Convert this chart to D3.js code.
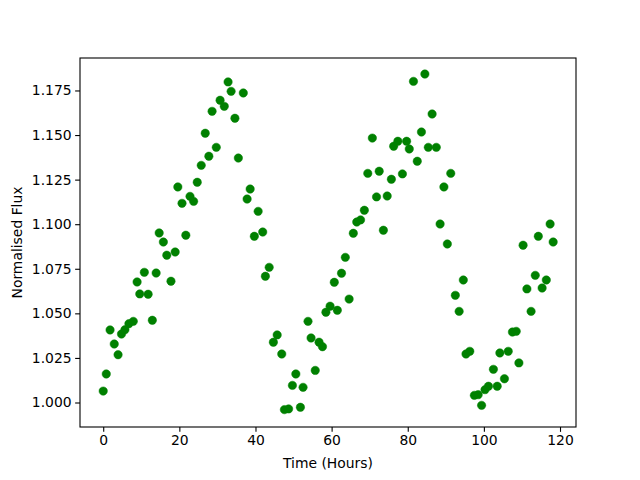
<!DOCTYPE html>
<html>
<head>
<meta charset="utf-8">
<script src="https://cdn.jsdelivr.net/npm/d3@7"></script>
<style>
  html, body { margin: 0; padding: 0; background: #fff; }
  svg { display: block; }
  text { font-family: "DejaVu Sans", sans-serif; }
</style>
</head>
<body>
<svg id="chart" width="640" height="480"></svg>
<script>
// Time (hours)
const times = [
  0.0, 0.8, 1.8, 2.9, 3.9, 4.8, 5.7, 6.75, 7.9, 8.9,
  9.6, 10.8, 11.8, 12.9, 13.9, 14.7, 15.8, 16.7, 17.8, 18.9,
  19.6, 20.7, 21.7, 22.8, 23.75, 24.7, 25.75, 26.8, 27.75, 28.6,
  29.7, 30.7, 31.8, 32.8, 33.6, 34.6, 35.5, 36.8, 37.8, 38.6,
  39.7, 40.7, 41.9, 42.6, 43.6, 44.7, 45.7, 46.9, 47.6, 48.7,
  49.7, 50.6, 51.8, 52.5, 53.8, 54.6, 55.7, 56.7, 57.6, 58.5,
  59.6, 60.7, 61.5, 62.6, 63.6, 64.6, 65.7, 66.6, 67.6, 68.6,
  69.5, 70.7, 71.8, 72.5, 73.6, 74.6, 75.7, 76.3, 77.4, 78.6,
  79.7, 80.4, 81.5, 82.5, 83.6, 84.5, 85.4, 86.4, 87.5, 88.5,
  89.5, 90.4, 91.3, 92.5, 93.5, 94.6, 95.3, 96.3, 97.5, 98.5,
  99.4, 100.3, 101.2, 102.5, 103.5, 104.2, 105.4, 106.4, 107.5, 108.5,
  109.2, 110.3, 111.3, 112.4, 113.5, 114.3, 115.3, 116.4, 117.4, 118.2
];
// Normalised flux
const flux = [
  1.0064, 1.0160, 1.0407, 1.0328, 1.0268, 1.0384, 1.0408, 1.0442, 1.0455, 1.0676,
  1.0609, 1.0730, 1.0607, 1.0461, 1.0726, 1.0951, 1.0900, 1.0826, 1.0680, 1.0844,
  1.1209, 1.1117, 1.0938, 1.1156, 1.1128, 1.1235, 1.1330, 1.1510, 1.1381, 1.1633,
  1.1431, 1.1695, 1.1661, 1.1798, 1.1745, 1.1594, 1.1371, 1.1736, 1.1141, 1.1197,
  1.0932, 1.1072, 1.0956, 1.0708, 1.0758, 1.0338, 1.0379, 1.0272, 0.9960, 0.9964,
  1.0096, 1.0160, 0.9973, 1.0085, 1.0455, 1.0362, 1.0180, 1.0338, 1.0313, 1.0506,
  1.0540, 1.0674, 1.0517, 1.0725, 1.0814, 1.0580, 1.0949, 1.1012, 1.1024, 1.1078,
  1.1285, 1.1483, 1.1153, 1.1297, 1.0966, 1.1158, 1.1252, 1.1437, 1.1465, 1.1282,
  1.1465, 1.1422, 1.1801, 1.1353, 1.1517, 1.1842, 1.1431, 1.1618, 1.1431, 1.1001,
  1.1209, 1.0889, 1.1285, 1.0601, 1.0511, 1.0687, 1.0272, 1.0287, 1.0040, 1.0044,
  0.9984, 1.0072, 1.0091, 1.0186, 1.0091, 1.0278, 1.0133, 1.0287, 1.0395, 1.0399,
  1.0222, 1.0882, 1.0637, 1.0511, 1.0713, 1.0932, 1.0642, 1.0687, 1.1001, 1.0900
];
const xTicks = [0, 20, 40, 60, 80, 100, 120];
const yTicks = [1.000, 1.025, 1.050, 1.075, 1.100, 1.125, 1.150, 1.175];
const xLabel = "Time (Hours)";
const yLabel = "Normalised Flux";

(function () {
const svg = d3.select("#chart");
const pL = 80, pR = 576, pT = 58, pB = 427;

const x = d3.scaleLinear().domain([-6.1, 124.2]).range([pL, pR]);
const y = d3.scaleLinear().domain([0.98626, 1.19321]).range([pB, pT]);

const tickLen = 4.86, tickPad = 3.5;
const fontSize = "13.9px";

const xAxis = d3.axisBottom(x).tickValues(xTicks).tickFormat(d3.format("d"))
  .tickSizeInner(tickLen).tickSizeOuter(0).tickPadding(tickPad);
const yAxis = d3.axisLeft(y).tickValues(yTicks).tickFormat(d3.format(".3f"))
  .tickSizeInner(tickLen).tickSizeOuter(0).tickPadding(tickPad);

const gx = svg.append("g").attr("transform", `translate(0,${pB})`).call(xAxis);
const gy = svg.append("g").attr("transform", `translate(${pL},0)`).call(yAxis);
[gx, gy].forEach(g => {
  g.select(".domain").remove();
  g.selectAll(".tick line").attr("stroke", "#000").attr("stroke-width", 1.1);
  g.selectAll(".tick text").attr("fill", "#000").style("font-size", fontSize)
    .style("font-family", "'DejaVu Sans', sans-serif");
});

// points
svg.append("g").selectAll("circle")
  .data(times.map((t, i) => ({ t, f: flux[i] })))
  .join("circle")
  .attr("cx", d => x(d.t))
  .attr("cy", d => y(d.f))
  .attr("r", 4.2)
  .attr("fill", "#008000")
  .attr("stroke", "#008000")
  .attr("stroke-width", 0.5);

// frame
svg.append("rect")
  .attr("x", pL).attr("y", pT)
  .attr("width", pR - pL).attr("height", pB - pT)
  .attr("fill", "none").attr("stroke", "#000").attr("stroke-width", 1.1);

svg.append("text")
  .attr("x", (pL + pR) / 2).attr("y", 467.5)
  .attr("text-anchor", "middle").style("font-size", fontSize)
  .text(xLabel);

svg.append("text")
  .attr("transform", `translate(21.5,${(pT + pB) / 2}) rotate(-90)`)
  .attr("text-anchor", "middle").style("font-size", fontSize)
  .text(yLabel);
})();
</script>
</body>
</html>
